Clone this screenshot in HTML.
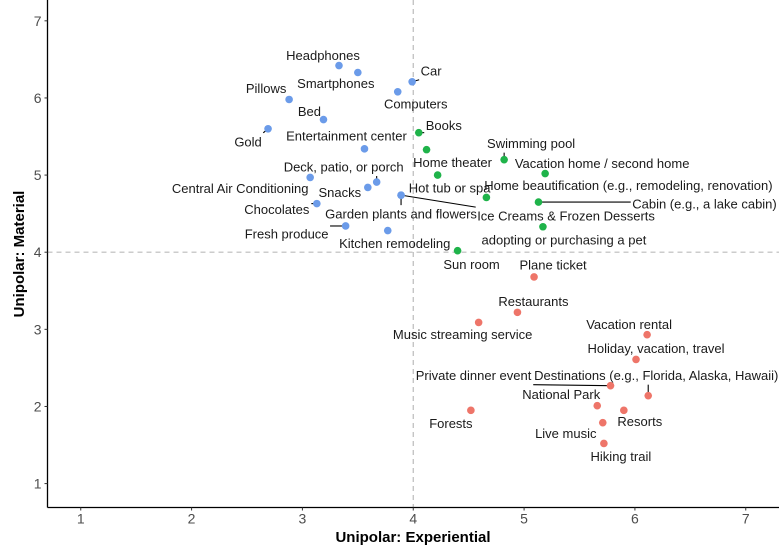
<!DOCTYPE html>
<html><head><meta charset="utf-8"><style>
html,body{margin:0;padding:0;background:#fff;width:784px;height:549px;overflow:hidden}
svg text{font-family:"Liberation Sans",sans-serif}
</style></head><body>
<svg id="chart" width="784" height="549" viewBox="0 0 784 549" xmlns="http://www.w3.org/2000/svg"></svg>
<script>
const names = ["Headphones","Smartphones","Car","Computers","Pillows","Bed","Gold","Entertainment center","Deck, patio, or porch","Central Air Conditioning","Snacks","Chocolates","Garden plants and flowers","Ice Creams & Frozen Desserts","Fresh produce","Kitchen remodeling",
"Books","Home theater","Hot tub or spa","Sun room","Swimming pool","Vacation home / second home","Home beautification (e.g., remodeling, renovation)","Cabin (e.g., a lake cabin)","adopting or purchasing a pet",
"Plane ticket","Restaurants","Music streaming service","Vacation rental","Holiday, vacation, travel","Private dinner event","Destinations (e.g., Florida, Alaska, Hawaii)","National Park","Resorts","Forests","Live music","Hiking trail"];
const xVals = [3.33,3.50,3.99,3.86,2.88,3.19,2.69,3.56,3.67,3.07,3.59,3.13,3.89,3.89,3.39,3.77,
4.05,4.12,4.22,4.40,4.82,5.19,4.66,5.13,5.17,
5.09,4.94,4.59,6.11,6.01,5.78,6.12,5.66,5.90,4.52,5.71,5.72];
const yVals = [6.42,6.33,6.21,6.08,5.98,5.72,5.60,5.34,4.91,4.97,4.84,4.63,4.74,4.74,4.34,4.28,
5.55,5.33,5.00,4.02,5.20,5.02,4.71,4.65,4.33,
3.68,3.22,3.09,2.93,2.61,2.27,2.14,2.01,1.95,1.95,1.79,1.52];
const groups = ["m","m","m","m","m","m","m","m","m","m","m","m","m","m","m","m",
"b","b","b","b","b","b","b","b","b",
"e","e","e","e","e","e","e","e","e","e","e","e"];
const xTicks = [1,2,3,4,5,6,7];
const yTicks = [1,2,3,4,5,6,7];
// label centre offsets (pixels, layout only)
const labelDx = [-16,-22,19,18,-23,-14,-20,-18,-33,-70,-28,-40,0,165,-59,7,25,26,12,14,27,57,142,166,21,19,16,-16,-18,20,-137,8,-36,16,-20,-37,17];
const labelDy = [-10,11,-11,12,-11,-8,13,-13,-15,11,5,6,19,21,8,13,-7,13,13,14,-16,-10,-12,2,13,-12,-11,12,-10,-11,-10,-20,-11,11,13,11,13];

const colors = {m:"#6b9be9", b:"#1fb34a", e:"#ee7569"};
const L=47.5, R=779, T=0, B=507.5;
const xMin=0.7, xMax=7.3, yMin=0.69, yMax=7.27;
const sx = v => L + (v - xMin) / (xMax - xMin) * (R - L);
const sy = v => B - (v - yMin) / (yMax - yMin) * (B - T);
const NS="http://www.w3.org/2000/svg";
const svg=document.getElementById('chart');
function mk(tag, attrs, parent){const e=document.createElementNS(NS,tag);for(const k in attrs)e.setAttribute(k,attrs[k]);(parent||svg).appendChild(e);return e;}

let vl=mk('line',{x1:sx(4),x2:sx(4),y1:T,y2:B,stroke:"#bbb","stroke-width":1.2,"stroke-dasharray":"5,4"});


let hl=mk('line',{x1:L,x2:R,y1:sy(4),y2:sy(4),stroke:"#bbb","stroke-width":1.2,"stroke-dasharray":"5,4"});



let ax=mk('line',{x1:L,x2:R,y1:B,y2:B,stroke:"#000","stroke-width":1.3});


let ay=mk('line',{x1:L,x2:L,y1:T,y2:B,stroke:"#000","stroke-width":1.3});



xTicks.forEach(t=>{
  mk('line',{x1:sx(t),x2:sx(t),y1:B,y2:B+3,stroke:"#333"});
  const tx=mk('text',{x:sx(t),y:B+16,"text-anchor":"middle","font-size":14,fill:"#4d4d4d"});
  tx.textContent=t;
  
  
});
yTicks.forEach(t=>{
  mk('line',{x1:L-3,x2:L,y1:sy(t),y2:sy(t),stroke:"#333"});
  const ty=mk('text',{x:L-6,y:sy(t)+5,"text-anchor":"end","font-size":14,fill:"#4d4d4d"});
  ty.textContent=t;
  
  
});
let xt=mk('text',{x:413,y:542,"text-anchor":"middle","font-size":15,"font-weight":"bold",fill:"#000"});
xt.textContent="Unipolar: Experiential";


let yt=mk('text',{x:0,y:0,"text-anchor":"middle","font-size":15,"font-weight":"bold",fill:"#000",transform:"translate(24,254) rotate(-90)"});
yt.textContent="Unipolar: Material";



const segG=mk('g',{});
const ptG=mk('g',{});
const lblG=mk('g',{});
names.forEach((n,i)=>{
  const px=sx(xVals[i]), py=sy(yVals[i]);
  const c=mk('circle',{cx:px,cy:py,r:3.8,fill:colors[groups[i]]},ptG);
  
  
  const lx=px+labelDx[i], ly=py+labelDy[i];
  const t=mk('text',{x:lx,y:ly+4.5,"text-anchor":"middle","font-size":13,fill:"#1a1a1a"},lblG);
  t.textContent=n;
  
  
  const bb=t.getBBox();
  const pad=1.5;
  const cx=Math.max(bb.x-pad,Math.min(px,bb.x+bb.width+pad));
  const cy=Math.max(bb.y-pad,Math.min(py,bb.y+bb.height+pad));
  const d=Math.hypot(cx-px,cy-py);
  if(d>5){
    const s=mk('line',{x1:px,y1:py,x2:cx,y2:cy,stroke:"#000","stroke-width":1.1},segG);
    
    
  }
});
</script>
</body></html>
